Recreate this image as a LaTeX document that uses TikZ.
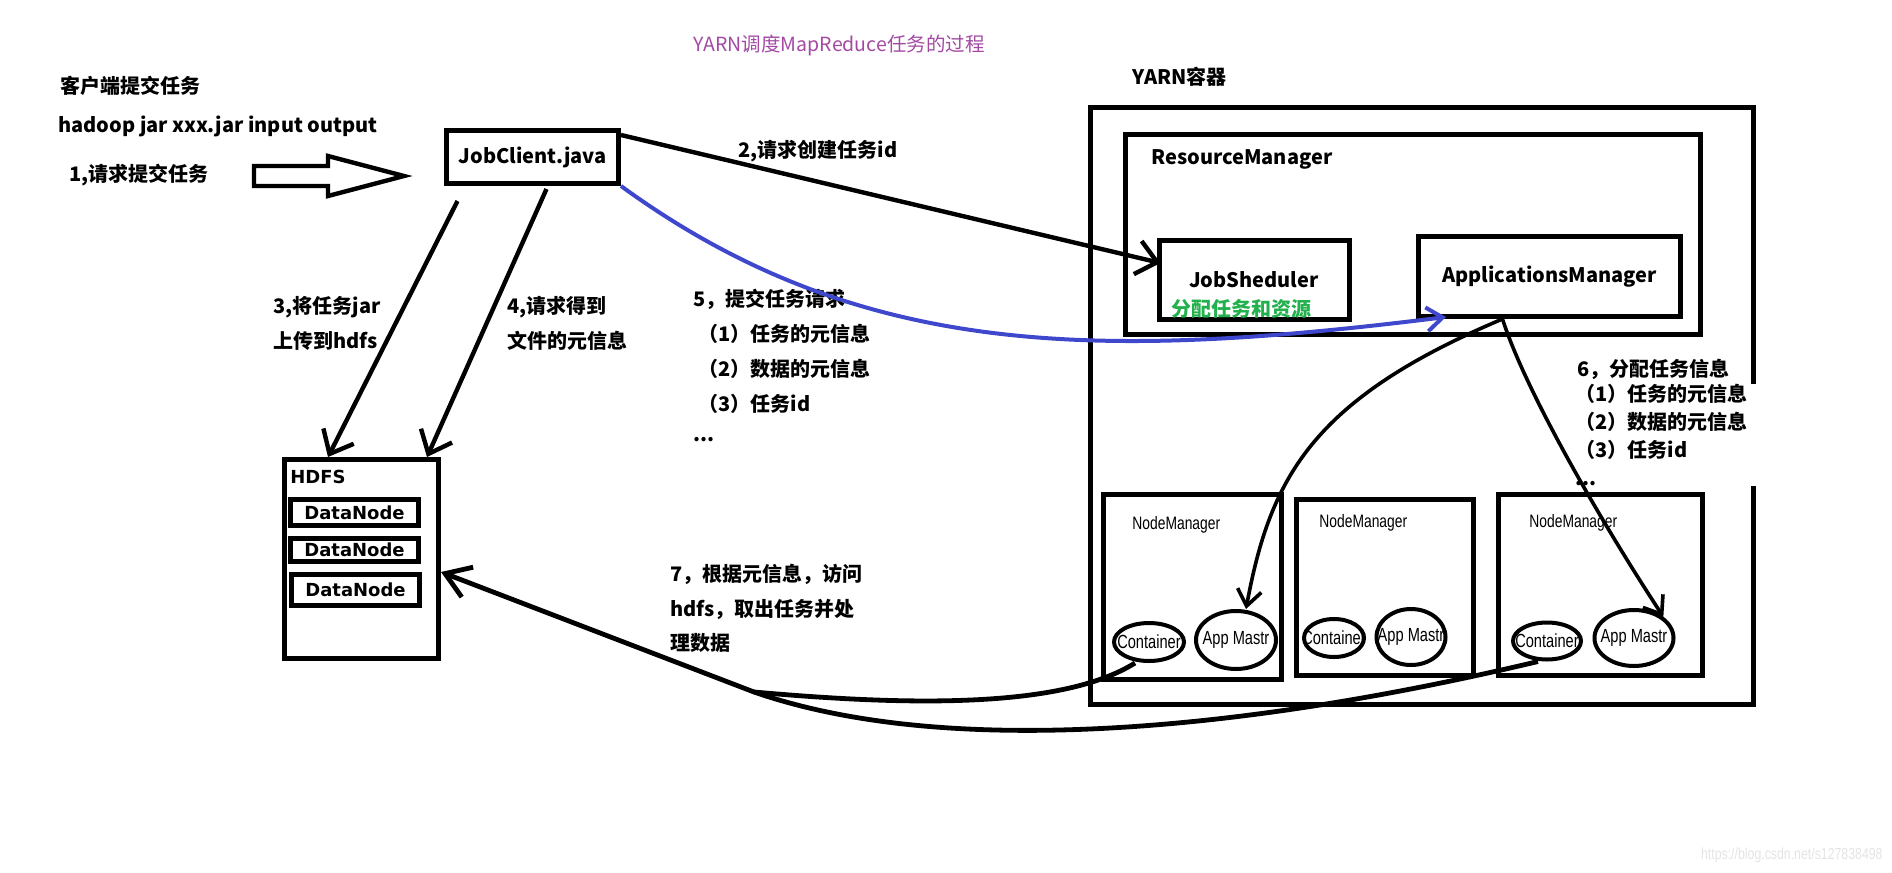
\documentclass[tikz,border=0pt]{standalone}
\usepackage{fontspec}
\setmainfont{Noto Sans CJK SC}
\newfontfamily\vfont{DejaVu Sans}
\newfontfamily\narrowfont{Liberation Sans}[FakeStretch=0.77]
\usetikzlibrary{arrows.meta,shapes.geometric}

\definecolor{paintblue}{RGB}{63,72,204}
\definecolor{paintgreen}{RGB}{34,177,76}
\definecolor{paintpurple}{RGB}{163,73,164}
\definecolor{markgray}{RGB}{228,228,228}

\tikzset{
  box/.style={draw, line width=2.5pt, inner sep=0pt},
  ctr/.style={draw, ellipse, line width=2pt, inner sep=0pt},
  txt/.style={anchor=west, inner sep=0pt, font=\bfseries\fontsize{10pt}{12pt}\selectfont},
  dntxt/.style={font=\vfont\bfseries\fontsize{9pt}{10pt}\selectfont},
  nmtxt/.style={anchor=west, inner sep=0pt, font=\narrowfont\fontsize{9pt}{10pt}\selectfont},
  ctrtxt/.style={inner sep=0pt, font=\narrowfont\fontsize{9.5pt}{10pt}\selectfont},
  arr/.style={line width=2.2pt, -{Straight Barb[length=10pt,width=17pt]}},
  arrsix/.style={line width=1.8pt, -{Straight Barb[length=8pt,width=12pt]}},
}

\begin{document}
\begin{tikzpicture}[x=0.5pt,y=-0.5pt]
    \useasboundingbox (0,0) rectangle (1892,873);
    %% Title
    \node[inner sep=0pt, text=paintpurple, font=\fontsize{9.75pt}{11pt}\selectfont] (title) at (839,45) {YARN调度MapReduce任务的过程};
    %% Client side
    \node[txt] (client) at (60,86) {客户端提交任务};
    \node[txt] (cmd) at (58,126) {hadoop jar xxx.jar input output};
    \node[txt] (t1) at (69,175) {1,请求提交任务};
    \draw[line width=2.2pt] (254,166) -- (328,166) -- (328,156) -- (404,176)
        -- (328,196) -- (328,186) -- (254,186) -- cycle;
    \node[box, minimum width=86pt, minimum height=26.5pt, font=\bfseries\fontsize{10pt}{12pt}\selectfont] (jc) at (532.5,157) {JobClient.java};
    %% HDFS
    \node[box, minimum width=77pt, minimum height=99.5pt] (hdfs) at (361.5,559) {};
    \node[anchor=west, inner sep=0pt, dntxt] (hdfslbl) at (290,477) {HDFS};
    \node[box, minimum width=64pt, minimum height=13pt, dntxt] (dn1) at (354.5,512.5) {DataNode};
    \node[box, minimum width=64pt, minimum height=11.5pt, dntxt] (dn2) at (354.5,550) {DataNode};
    \node[box, minimum width=64pt, minimum height=15.5pt, dntxt] (dn3) at (355.5,590) {DataNode};
    \node[txt] (t3a) at (273,307) {3,将任务jar};
    \node[txt] (t3b) at (273,341) {上传到hdfs};
    \node[txt] (t4a) at (507,307) {4,请求得到};
    \node[txt] (t4b) at (507,341) {文件的元信息};
    %% YARN container
    \node[txt] (yarnlbl) at (1132,77) {YARN容器};
    \node[box, minimum width=331.5pt, minimum height=298.5pt] (yarn) at (1422,406) {};
    \node[box, minimum width=287.5pt, minimum height=100pt] (rm) at (1413,234.5) {};
    \node[txt] (rmlbl) at (1151,159) {ResourceManager};
    \node[box, minimum width=95pt, minimum height=39.5pt, font=\bfseries\fontsize{10pt}{12pt}\selectfont] (js) at (1254,280) {JobSheduler};
    \node[txt, text=paintgreen] (alloc) at (1171,309) {分配任务和资源};
    \node[box, minimum width=131pt, minimum height=40pt, font=\bfseries\fontsize{10pt}{12pt}\selectfont] (am) at (1549.5,276.5) {ApplicationsManager};
    %% Node managers
    \node[box, minimum width=89pt, minimum height=92.5pt] (nm1) at (1192.5,587) {};
    \node[box, minimum width=88.5pt, minimum height=88pt] (nm2) at (1385,587.5) {};
    \node[box, minimum width=102pt, minimum height=90.5pt] (nm3) at (1600.5,585) {};
    \node[nmtxt] (nm1lbl) at (1132,525) {NodeManager};
    \node[nmtxt] (nm2lbl) at (1319,523) {NodeManager};
    \node[nmtxt] (nm3lbl) at (1529,523) {NodeManager};
    \node[ctr, minimum width=35pt, minimum height=19pt, label={[ctrtxt]center:Container}] (c1) at (1149,642) {};
    \node[ctr, minimum width=40pt, minimum height=29pt, label={[ctrtxt]center:App Mastr}] (a1) at (1236,640) {};
    \node[ctr, minimum width=30pt, minimum height=19pt, label={[ctrtxt]center:Container}] (c2) at (1334,638) {};
    \node[ctr, minimum width=34.5pt, minimum height=28pt, label={[ctrtxt]center:App Mastr}] (a2) at (1411,637) {};
    \node[ctr, minimum width=34pt, minimum height=18.5pt, label={[ctrtxt]center:Container}] (c3) at (1547,641) {};
    \node[ctr, minimum width=39.5pt, minimum height=28pt, label={[ctrtxt]center:App Mastr}] (a3) at (1634,638) {};
    %% Step texts
    \node[txt] (t2) at (738,151) {2,请求创建任务id};
    \node[txt] (t5a) at (693,299) {5，提交任务请求};
    \node[txt] (t5b) at (698,334) {（1）任务的元信息};
    \node[txt] (t5c) at (698,369) {（2）数据的元信息};
    \node[txt] (t5d) at (698,404) {（3）任务id};
    \node[txt] (t5e) at (693,440) {...};
    \node[txt] (t6a) at (1577,369) {6，分配任务信息};
    \node[anchor=north west, inner sep=0pt, fill=white, text width=94pt, align=left,
        font=\bfseries\fontsize{10pt}{14pt}\selectfont] (t6b) at (1575,384)
        {（1）任务的元信息\\（2）数据的元信息\\（3）任务id\\...};
    \node[txt] (t7a) at (670,574) {7，根据元信息，访问};
    \node[txt] (t7b) at (670,609) {hdfs，取出任务并处};
    \node[txt] (t7c) at (670,643) {理数据};
    %% Connectors
    \draw[arr] ([yshift=11pt]jc.east) -- ([xshift=2pt,yshift=8.5pt]js.west);
    \draw[paintblue, line width=2pt, -{Straight Barb[length=8pt,width=12pt]}]
        (jc.south east) .. controls (860,360) and (1100,360) .. ([xshift=15pt,yshift=1pt]am.south west);
    \draw[arr] ([xshift=-37.5pt,yshift=-7.5pt]jc.south) -- ([xshift=23pt]hdfs.north west);
    \draw[arr] ([xshift=7pt,yshift=-1.5pt]jc.south) -- ([xshift=-7pt]hdfs.north east);
    \draw[arrsix] ([xshift=-23.5pt]am.south) .. controls (1310,400) and (1270,480) .. ([xshift=5pt]a1.north);
    \draw[arrsix] ([xshift=-23.5pt]am.south) .. controls (1525,390) and (1600,520) .. (a3.north east);
    \coordinate (j7) at (754,692);
    \draw[line width=2.4pt] ([xshift=-7pt]c1.south) .. controls (1060,710) and (900,705) .. (j7);
    \draw[line width=2.4pt, -{Straight Barb[length=12pt,width=16pt]}]
        ([xshift=-4.5pt]c3.south) .. controls (1250,730) and (950,760) .. (j7) -- ([yshift=-6.5pt]hdfs.east);
    %% Watermark
    \node[anchor=east, inner sep=0pt, text=markgray, font=\narrowfont\fontsize{8pt}{9pt}\selectfont] (mark) at (1883,855) {https://blog.csdn.net/s127838498};
\end{tikzpicture}
\end{document}
